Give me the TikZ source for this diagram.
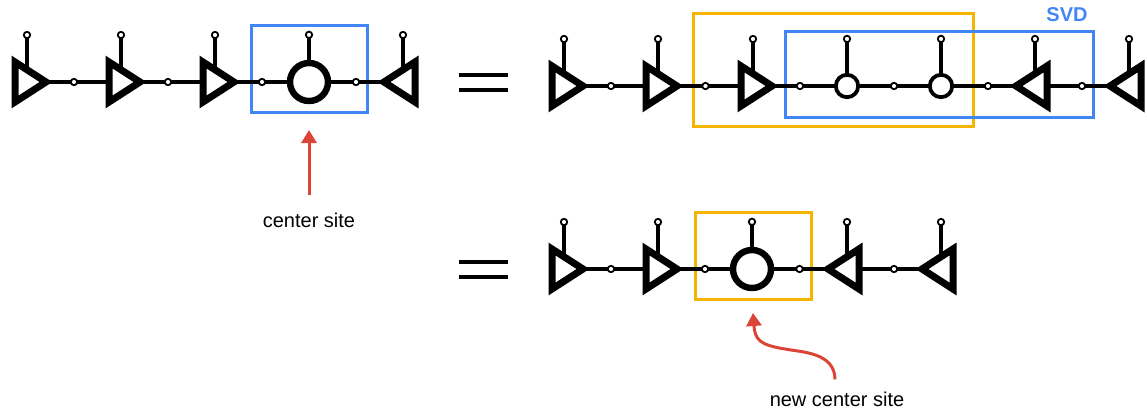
\documentclass[tikz,border=0pt]{standalone}
\usepackage{fontspec}
\setmainfont{Liberation Sans}
\usetikzlibrary{positioning,arrows.meta,backgrounds}

\definecolor{svdblue}{RGB}{66,133,244}
\definecolor{qrorange}{RGB}{244,180,0}
\definecolor{markred}{RGB}{219,68,55}

\tikzset{
  % canonical tensors, physical leg on top
  rtens/.pic={
    \draw[line width=1.7pt] (0,-10) -- (0,-47) node[dot] (-top) {};
    \draw[line width=3.5pt,fill=white] (-12,-20) -- (19,0) -- (-12,20) -- cycle;
  },
  ltens/.pic={
    \draw[line width=1.7pt] (0,-10) -- (0,-47) node[dot] (-top) {};
    \draw[line width=3.5pt,fill=white] (12,-20) -- (-19,0) -- (12,20) -- cycle;
  },
}

\begin{document}
\begin{tikzpicture}[x=0.5pt,y=-0.5pt,
  dot/.style={circle,draw,fill=white,line width=0.9pt,inner sep=0pt,minimum size=3.2pt},
  bond/.style={line width=1.7pt},
  centre/.style={circle,draw,fill=white,line width=3.2pt,inner sep=0pt,minimum size=19pt},
  halfcentre/.style={circle,draw,fill=white,line width=1.9pt,inner sep=0pt,minimum size=11.2pt},
  window/.style={draw=#1,line width=1.5pt},
  pointer/.style={markred,line width=1.5pt,-{Triangle[length=6.5pt,width=7.5pt]}},
  caption/.style={anchor=base,font=\fontsize{10}{12}\selectfont}]
\useasboundingbox (0,0) rectangle (1147,414);

% chain with the centre site
\foreach \n/\x in {1/27,2/121,3/215} {
  \coordinate (a\n) at (\x,82);
  \pic (a\n) at (a\n) {rtens};
}
\node[centre] (a4) at (309,82) {};
\draw[line width=1.7pt] (a4.north) -- ++(0,-25) node[dot] (a4-top) {};
\coordinate (a5) at (403,82);
\pic (a5) at (a5) {ltens};

% split of the centre tensor
\foreach \n/\x in {1/564,2/658,3/753} {
  \coordinate (b\n) at (\x,86);
  \pic (b\n) at (b\n) {rtens};
}
\foreach \n/\x in {4/847,5/941} {
  \node[halfcentre] (b\n) at (\x,86) {};
  \draw[line width=1.7pt] (b\n.north) -- ++(0,-34) node[dot] (b\n-top) {};
}
\foreach \n/\x in {6/1035,7/1129} {
  \coordinate (b\n) at (\x,86);
  \pic (b\n) at (b\n) {ltens};
}

% centre moved one site right
\foreach \n/\x in {1/564,2/658} {
  \coordinate (c\n) at (\x,269);
  \pic (c\n) at (c\n) {rtens};
}
\node[centre] (c3) at (752,269) {};
\draw[line width=1.7pt] (c3.north) -- ++(0,-25) node[dot] (c3-top) {};
\foreach \n/\x in {4/847,5/941} {
  \coordinate (c\n) at (\x,269);
  \pic (c\n) at (c\n) {ltens};
}

\begin{scope}[on background layer]
\draw[window=svdblue] (251,25) rectangle (367,112);
\draw[window=qrorange] (693,13) rectangle (973,126);
\draw[window=svdblue] (785,31) rectangle (1093,117);
\draw[window=qrorange] (695,212) rectangle (811,299);
\foreach \i/\j in {1/2,2/3,3/4,4/5}
  \draw[bond] (a\i.center) -- node[dot] (ab\i) {} (a\j.center);
\foreach \i/\j in {1/2,2/3,3/4,4/5,5/6,6/7}
  \draw[bond] (b\i.center) -- node[dot] (bb\i) {} (b\j.center);
\foreach \i/\j in {1/2,2/3,3/4,4/5}
  \draw[bond] (c\i.center) -- node[dot] (cb\i) {} (c\j.center);
\end{scope}

\node[anchor=base,font=\fontsize{10}{12}\selectfont\bfseries,text=svdblue] (svd) at (1067,21) {SVD};

% equal signs
\foreach \y in {75,90,262,277}
  \draw[line width=2pt] (459,\y) -- (508,\y);

% labels
\coordinate (tip1) at (309,130);
\node[caption] (lbl1) at (309,227) {center site};
\draw[pointer] ([yshift=5pt]lbl1.north) -- (tip1);

\coordinate (tip2) at (753,313);
\node[caption] (lbl2) at (837,406) {new center site};
\draw[pointer] ([xshift=-1pt,yshift=2.5pt]lbl2.north) .. controls (835,352) and (800,352) .. (785,349) .. controls (760,345) and (755,340) .. (tip2);
\end{tikzpicture}
\end{document}
